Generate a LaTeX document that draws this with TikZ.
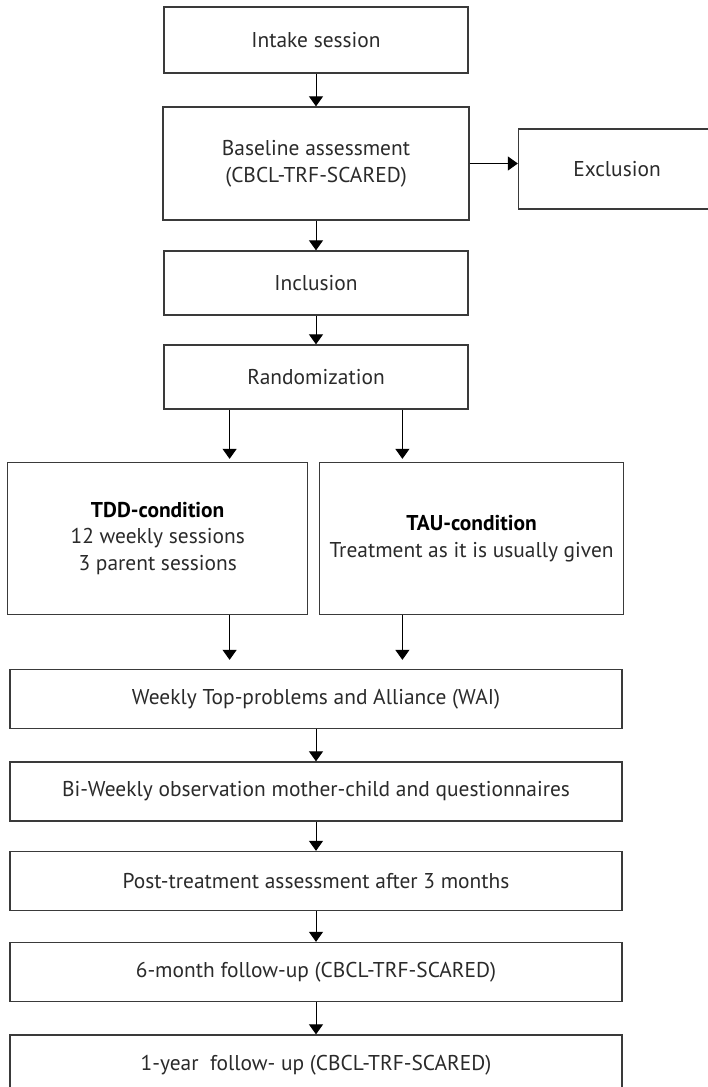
\documentclass[tikz,border=0pt]{standalone}
\usepackage{fontspec}
\setmainfont{PT Sans}
\usetikzlibrary{arrows.meta,calc}

\definecolor{boxline}{HTML}{3A3A3A}
\definecolor{boxtext}{HTML}{2A2A2A}

\tikzset{
  box/.style={draw=boxline, line width=1.3bp, text=boxtext, align=center, inner sep=0pt},
  wide/.style={box, minimum width=612bp, minimum height=59bp},
  arr/.style={line width=1bp, -{Triangle[length=10bp,width=14bp]}},
}

\begin{document}
\begin{tikzpicture}[x=1bp,y=-1bp,font=\fontsize{21.5}{27}\selectfont]
  \clip (0,0) rectangle (708,1087);
  \node[box, minimum width=304bp, minimum height=66bp] (intake) at (316,40) {Intake session};
  \node[box, minimum width=306bp, minimum height=113bp] (base) at (316,163.5) {Baseline assessment\\(CBCL-TRF-SCARED)};
  \node[box, minimum width=197bp, minimum height=80bp] (excl) at (617,169) {Exclusion};
  \node[box, minimum width=304bp, minimum height=64bp] (incl) at (316,283) {Inclusion};
  \node[box, minimum width=304bp, minimum height=64bp] (rand) at (316,377) {Randomization};
  \node[box, minimum width=300bp, minimum height=152bp] (tdd) at (157.7,538.5)
    {\textcolor{black}{\bfseries TDD-condition}\\12 weekly sessions\\3 parent sessions};
  \node[box, minimum width=304bp, minimum height=152bp] (tau) at (471.6,538.5)
    {\textcolor{black}{\bfseries TAU-condition}\\Treatment as it is usually given};
  \node[wide] (weekly) at (316,699) {Weekly Top-problems and Alliance (WAI)};
  \node[wide] (biweek) at (316,791.5) {Bi-Weekly observation mother-child and questionnaires};
  \node[wide] (post) at (316,881) {Post-treatment assessment after 3 months};
  \node[wide] (six) at (316,972) {6-month follow-up (CBCL-TRF-SCARED)};
  \node[wide, minimum height=60bp] (year) at (316,1065) {1-year~ follow- up (CBCL-TRF-SCARED)};

  \coordinate (lft) at ($(rand.south west)!.217!(rand.south east)$);
  \coordinate (rgt) at ($(rand.south west)!.783!(rand.south east)$);

  \draw[arr] (intake) -- (base);
  \draw[arr] (base.east) -- (base.east -| excl.west);
  \draw[arr] (base) -- (incl);
  \draw[arr] (incl) -- (rand);
  \draw[arr, shorten >=3bp] (lft) -- (lft |- tdd.north);
  \draw[arr, shorten >=3bp] (rgt) -- (rgt |- tau.north);
  \draw[arr, shorten >=9bp] (lft |- tdd.south) -- (lft |- weekly.north);
  \draw[arr, shorten >=9bp] (rgt |- tau.south) -- (rgt |- weekly.north);
  \draw[arr] (weekly) -- (biweek);
  \draw[arr] (biweek) -- (post);
  \draw[arr] (post) -- (six);
  \draw[arr] (six) -- (year);
\end{tikzpicture}
\end{document}
